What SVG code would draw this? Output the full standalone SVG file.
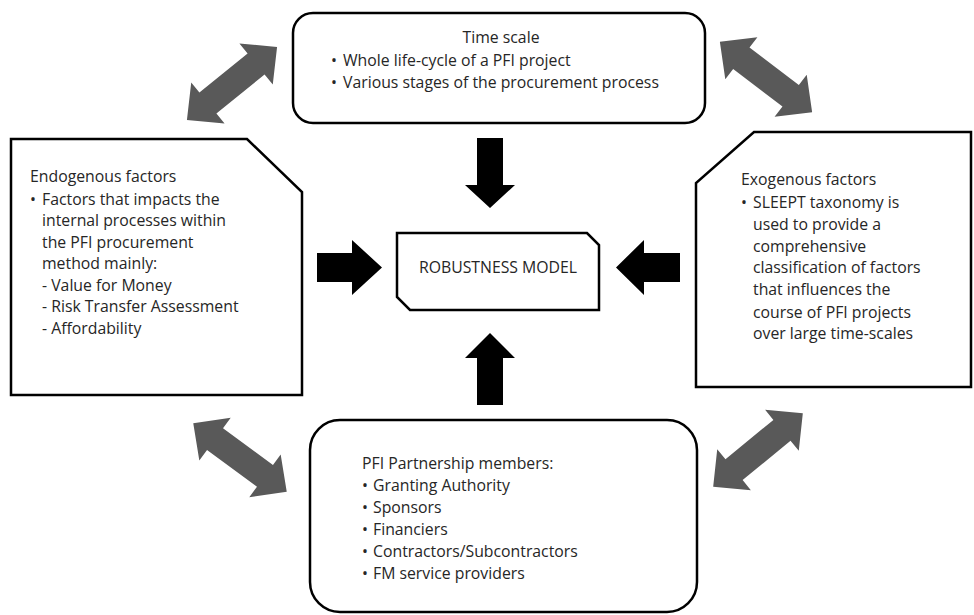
<svg xmlns="http://www.w3.org/2000/svg" width="974" height="615" viewBox="0 0 974 615">
<defs>
<style>
.box{fill:#fff;stroke:#000;stroke-width:2.5}
.t{font-family:"Open Sans","Liberation Sans",Arial,sans-serif;font-size:15.8px;fill:#262626}
.da{fill:#595959}
.ba{fill:#000}
</style>
<path id="dbl" d="M-58,0 L-31,-26.5 L-31,-13.5 L31,-13.5 L31,-26.5 L58,0 L31,26.5 L31,13.5 L-31,13.5 L-31,26.5 Z"/>
</defs>
<rect width="974" height="615" fill="#fff"/>
<g id="connectors">
<use href="#dbl" class="da" transform="translate(232,83.5) rotate(-39)"/>
<use href="#dbl" class="da" transform="translate(766,77) rotate(37.3)"/>
<use href="#dbl" class="da" transform="translate(240,457.5) rotate(36.3)"/>
<use href="#dbl" class="da" transform="translate(758,450) rotate(-39.4)"/>
<path class="ba" d="M477,138 H503 V185 H515 L490,208 L465,185 H477 Z"/>
<path class="ba" d="M317,253 H352 V240 L382,267.5 L352,295 V282 H317 Z"/>
<path class="ba" d="M680,253 V282 H644 V295 L616,267.5 L644,240 V253 Z"/>
<path class="ba" d="M477,405 V358 H465 L490,333 L515,358 H503 V405 Z"/>
</g>
<g id="timescale">
<rect class="box" x="293" y="13" width="412" height="110" rx="20"/>
<text class="t" x="501" y="43" text-anchor="middle">Time scale</text>
<text class="t" x="331" y="66">•</text>
<text class="t" x="343" y="66">Whole life-cycle of a PFI project</text>
<text class="t" x="331" y="88">•</text>
<text class="t" x="343" y="88">Various stages of the procurement process</text>
</g>
<g id="endogenous">
<path class="box" d="M11,139 H247 L302,192 V395 H11 Z"/>
<text class="t" x="30" y="182">Endogenous factors</text>
<text class="t" x="30" y="205">•</text>
<text class="t" x="42" y="205">Factors that impacts the</text>
<text class="t" x="42" y="226">internal processes within</text>
<text class="t" x="42" y="248">the PFI procurement</text>
<text class="t" x="42" y="269">method mainly:</text>
<text class="t" x="42" y="291">- Value for Money</text>
<text class="t" x="42" y="312">- Risk Transfer Assessment</text>
<text class="t" x="42" y="334">- Affordability</text>
</g>
<g id="exogenous">
<path class="box" d="M754,132 H971 V387 H696 V183 Z"/>
<text class="t" x="741" y="185">Exogenous factors</text>
<text class="t" x="741" y="208">•</text>
<text class="t" x="753" y="208">SLEEPT taxonomy is</text>
<text class="t" x="753" y="230">used to provide a</text>
<text class="t" x="753" y="252">comprehensive</text>
<text class="t" x="753" y="273">classification of factors</text>
<text class="t" x="753" y="295">that influences the</text>
<text class="t" x="753" y="318">course of PFI projects</text>
<text class="t" x="753" y="339">over large time-scales</text>
</g>
<g id="robustness">
<path class="box" d="M397,233 H587 L599,245 V310 H410 L397,297 Z"/>
<text class="t" x="498" y="273" text-anchor="middle">ROBUSTNESS MODEL</text>
</g>
<g id="partnership">
<rect class="box" x="310" y="420" width="387" height="192" rx="30"/>
<text class="t" x="362" y="469">PFI Partnership members:</text>
<text class="t" x="362" y="491">•</text>
<text class="t" x="373" y="491">Granting Authority</text>
<text class="t" x="362" y="513">•</text>
<text class="t" x="373" y="513">Sponsors</text>
<text class="t" x="362" y="535">•</text>
<text class="t" x="373" y="535">Financiers</text>
<text class="t" x="362" y="557">•</text>
<text class="t" x="373" y="557">Contractors/Subcontractors</text>
<text class="t" x="362" y="579">•</text>
<text class="t" x="373" y="579">FM service providers</text>
</g>
</svg>
